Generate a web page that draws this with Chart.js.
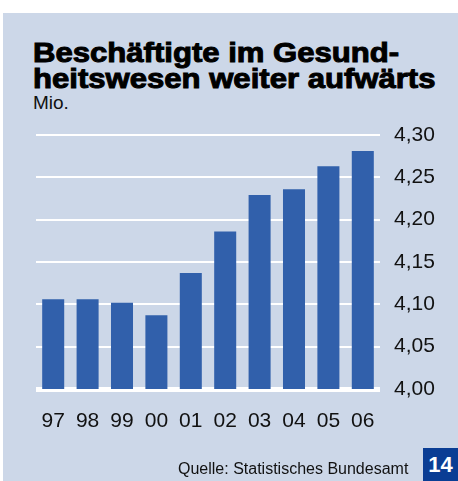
<!DOCTYPE html>
<html>
<head>
<meta charset="utf-8">
<script src="https://cdn.jsdelivr.net/npm/chart.js@4"></script>
<style>
  html, body { margin: 0; padding: 0; background: #fff; }
  body { width: 458px; height: 481px; position: relative; overflow: hidden; font-family: "Liberation Sans", Arial, sans-serif; }
  #panel { position: absolute; left: 3px; top: 13px; width: 455px; height: 468px; background: #ccd7e8; }
  .title { position: absolute; left: 33px; font-size: 28px; font-weight: bold; color: #000; white-space: nowrap; -webkit-text-stroke: 1px #000; line-height: 27px; transform: scaleX(1.11); transform-origin: left top; }
  #unit { position: absolute; left: 33px; top: 92px; font-size: 19px; color: #111; }
  #source { position: absolute; left: 178px; top: 460px; font-size: 16px; color: #111; white-space: nowrap; }
  #page { position: absolute; left: 423px; top: 448px; width: 35px; height: 33px; background: #0a3d94; color: #fff; font-weight: bold; font-size: 22px; line-height: 33px; text-align: center; }
  #wrap { position: absolute; left: 0; top: 0; width: 458px; height: 481px; }
</style>
</head>
<body>
<div id="panel"></div>
<div class="title" style="top:39px">Beschäftigte im Gesund-</div>
<div class="title" style="top:65px">heitswesen weiter aufwärts</div>
<div id="unit">Mio.</div>
<div id="wrap"><canvas id="myChart" width="458" height="481"></canvas></div>
<div id="source">Quelle: Statistisches Bundesamt</div>
<div id="page">14</div>

<script>
// Beschäftigte im Gesundheitswesen, Mio.
const years = ["97", "98", "99", "00", "01", "02", "03", "04", "05", "06"];
const employees = [4.106, 4.106, 4.102, 4.087, 4.137, 4.186, 4.229, 4.236, 4.263, 4.281];
const yMin = 4.00;
const yMax = 4.30;
const yStep = 0.05;

const ctx = document.getElementById("myChart").getContext("2d");

new Chart(ctx, {
  type: "bar",
  data: {
    labels: years,
    datasets: [{
      data: employees,
      backgroundColor: "#3160ab",
      borderWidth: 0,
      categoryPercentage: 1,
      barPercentage: 0.64
    }]
  },
  options: {
    responsive: false,
    animation: false,
    layout: { padding: { left: 36, right: 18, top: 135, bottom: 44 } },
    plugins: {
      legend: { display: false },
      tooltip: { enabled: false }
    },
    scales: {
      x: {
        grid: { display: false, drawTicks: false },
        border: { display: false },
        ticks: {
          color: "#111",
          padding: 20,
          font: { family: "Liberation Sans", size: 21 }
        },
        afterFit: s => { s.height = 48; }
      },
      y: {
        position: "right",
        min: yMin,
        max: yMax,
        grid: {
          color: "#ffffff",
          lineWidth: c => (c.tick && Math.abs(c.tick.value - yMin) < 1e-6) ? 5 : 2,
          drawTicks: false
        },
        border: { display: false },
        ticks: {
          stepSize: yStep,
          color: "#111",
          padding: 14,
          font: { family: "Liberation Sans", size: 21 },
          callback: v => v.toFixed(2).replace(".", ",")
        },
        afterFit: s => { s.width = 60; }
      }
    }
  }
});
</script>
</body>
</html>
